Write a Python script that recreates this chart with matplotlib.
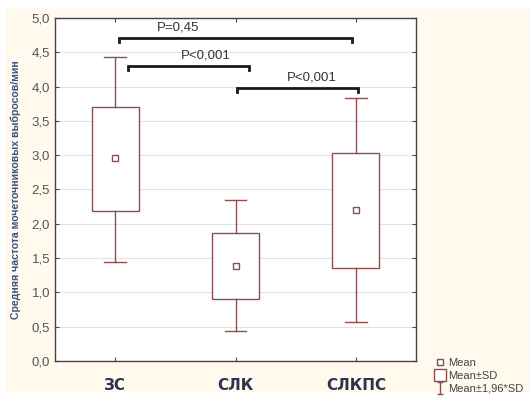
import numpy as np
import matplotlib; matplotlib.use("Agg")
import matplotlib.pyplot as plt
from matplotlib.lines import Line2D
from matplotlib.patches import Rectangle
from matplotlib.path import Path
from matplotlib.ticker import FuncFormatter, MultipleLocator

plt.rcParams["font.family"] = ["Liberation Sans", "DejaVu Sans"]

groups = ["ЗС", "СЛК", "СЛКПС"]
means = [2.96, 1.39, 2.20]
sd_hi = [3.70, 1.87, 3.03]
sd_lo = [2.18, 0.90, 1.36]
ci_hi = [4.43, 2.35, 3.84]
ci_lo = [1.44, 0.43, 0.57]
# (from group, to group, bracket level, label, label x)
comps = [(0, 2, 4.71, "P=0,45", 1.52), (0, 1, 4.30, "P<0,001", 1.75), (1, 2, 3.98, "P<0,001", 2.63)]
# small horizontal shifts of bracket ends relative to group centres
shift = {(0, 2): (0.03, -0.03), (0, 1): (0.11, 0.11), (1, 2): (0.01, 0.02)}

BOX = "#8c4f4f"; INK = "#1a1a1a"; NAVY = "#2b3550"; CREAM = "#fff9ee"

fig = plt.figure(figsize=(5.3, 4.01), dpi=100, facecolor="white")
fig.patches.append(Rectangle((6/530, 8/401), 1 - 6/530, 1 - 16/401, transform=fig.transFigure,
                             facecolor=CREAM, edgecolor="none", zorder=-5))
ax = fig.add_axes([0.1038, 0.0998, 0.6813, 0.8553])
ax.set_zorder(2)
ax.set_facecolor("white")

x = np.arange(1, len(groups) + 1)
bw = 0.39; cw = 0.18
for xi, m, sh, sl, ch, cl in zip(x, means, sd_hi, sd_lo, ci_hi, ci_lo):
    ax.add_patch(Rectangle((xi - bw/2, sl), bw, sh - sl, facecolor="white", edgecolor=BOX, lw=1.0, zorder=3))
    ax.plot([xi, xi], [sh, ch], color=BOX, lw=1.0, zorder=3)
    ax.plot([xi, xi], [sl, cl], color=BOX, lw=1.0, zorder=3)
    ax.plot([xi - cw/2, xi + cw/2], [ch, ch], color=BOX, lw=1.0, zorder=3)
    ax.plot([xi - cw/2, xi + cw/2], [cl, cl], color=BOX, lw=1.0, zorder=3)
    ax.plot([xi], [m], marker="s", ms=4, mfc="white", mec=BOX, mew=1.0, zorder=4)

for a, b, lev, lab, lx in comps:
    da, db = shift[(a, b)]
    xa, xb = x[a] + da, x[b] + db
    ax.plot([xa, xa, xb, xb], [lev - 0.06, lev, lev, lev - 0.06], color=INK, lw=2.0,
            solid_joinstyle="miter", zorder=5)
    ax.text(lx, lev + 0.06, lab, ha="center", va="bottom", fontsize=9.5, color="#333333")

ax.set_xlim(0.5, 3.5); ax.set_ylim(0, 5)
ax.yaxis.set_major_locator(MultipleLocator(0.5))
ax.yaxis.set_major_formatter(FuncFormatter(lambda v, p: f"{v:.1f}".replace(".", ",")))
ax.set_xticks(x)
ax.set_xticklabels(groups, fontsize=11, fontweight="bold", color=NAVY, family="DejaVu Sans")
ax.tick_params(axis="y", labelsize=9.5, labelcolor="#555555", direction="in", length=3, right=True, color="#444444")
ax.tick_params(axis="x", direction="in", length=3, top=True, pad=12, color="#444444")
ax.grid(axis="y", color="#e2e2e2", lw=0.8, zorder=0)
ax.set_axisbelow(True)
for s in ax.spines.values():
    s.set_color("#444444"); s.set_linewidth(1.0)
ax.set_ylabel("Средняя частота мочеточниковых выбросов/мин", fontsize=7.6, fontweight="bold",
              color="#3d5283", labelpad=8)

ivs = Path([(-0.5, 1), (0.5, 1), (0, 1), (0, -1), (-0.5, -1), (0.5, -1)],
           [Path.MOVETO, Path.LINETO, Path.MOVETO, Path.LINETO, Path.MOVETO, Path.LINETO])
handles = [Line2D([], [], ls="none", marker="s", ms=4, mfc="white", mec=BOX, mew=1.0),
           Line2D([], [], ls="none", marker="s", ms=8, mfc="white", mec=BOX, mew=1.0),
           Line2D([], [], ls="none", marker=ivs, ms=9, mec=BOX, mew=1.0)]
fig.legend(handles, ["Mean", "Mean±SD", "Mean±1,96*SD"], loc="lower left", bbox_to_anchor=(0.808, 0.0),
           frameon=False, fontsize=8, handlelength=0.8, handletextpad=0.35, labelspacing=0.25,
           labelcolor="#444444", borderaxespad=0.25)

fig.savefig("out.png", dpi=100, facecolor="white")
